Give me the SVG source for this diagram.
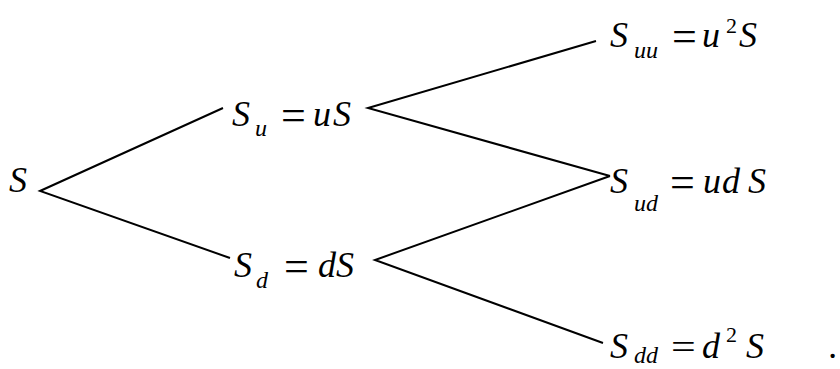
<svg xmlns="http://www.w3.org/2000/svg" width="840" height="369" viewBox="0 0 840 369">
<style>
.m{font-size:36px;font-style:italic}
.s{font-size:24px;font-style:italic}
.p{font-size:22px;font-style:normal}
.e{font-size:44px;font-style:normal}
.c{stroke:#000;stroke-width:2;fill:none}
</style>
<rect width="840" height="369" fill="#fff"/>
<g id="connectors">
<polyline class="c" points="223,108 40,191 230,258"/>
<polyline class="c" points="596,41 368,108 610,176"/>
<polyline class="c" points="610,176 375,260 603,343"/>
</g>
<g font-family="Liberation Serif, Times New Roman, serif" fill="#000">
<g id="S">
<text class="m" x="9" y="192">S</text>
</g>
<g id="Su">
<text class="m" x="232" y="126">S</text>
<text class="s" x="255" y="136">u</text>
<text class="e" x="281" y="130">=</text>
<text class="m" x="313" y="126">u</text>
<text class="m" x="333" y="126">S</text>
</g>
<g id="Sd">
<text class="m" x="234" y="277">S</text>
<text class="s" x="256" y="288">d</text>
<text class="e" x="284" y="281">=</text>
<text class="m" x="318" y="277">d</text>
<text class="m" x="336" y="277">S</text>
</g>
<g id="Suu">
<text class="m" x="610" y="47">S</text>
<text class="s" x="634" y="58">uu</text>
<text class="e" x="672" y="51">=</text>
<text class="m" x="702" y="47">u</text>
<text class="p" x="726" y="33">2</text>
<text class="m" x="739" y="47">S</text>
</g>
<g id="Sud">
<text class="m" x="610" y="193">S</text>
<text class="s" x="634" y="211">ud</text>
<text class="e" x="670" y="197">=</text>
<text class="m" x="703" y="193">u</text>
<text class="m" x="722" y="193">d</text>
<text class="m" x="748" y="193">S</text>
</g>
<g id="Sdd">
<text class="m" x="610" y="358">S</text>
<text class="s" x="634" y="363">dd</text>
<text font-size="36" transform="translate(671,359) scale(1.22,1)">=</text>
<text class="m" x="702" y="358">d</text>
<text class="p" x="726" y="342">2</text>
<text class="m" x="746" y="358">S</text>
<text class="m" x="829" y="358">.</text>
</g>
</g>
</svg>
